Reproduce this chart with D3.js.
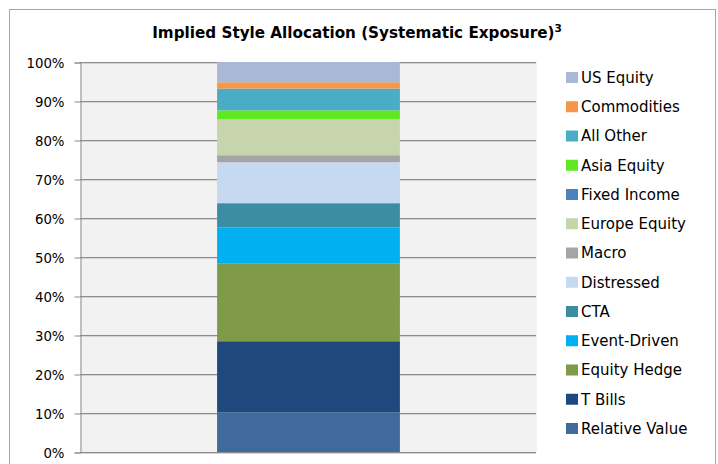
<!DOCTYPE html>
<html><head><meta charset="utf-8">
<script src="https://cdn.jsdelivr.net/npm/d3@7"></script>
<style>body{margin:0;background:#fff}svg{display:block}</style>
</head><body>
<script>
// stack order bottom -> top
const categories = ["Portfolio"];
const seriesNames = ["Relative Value","T Bills","Equity Hedge","Event-Driven","CTA","Distressed","Macro","Europe Equity","Fixed Income","Asia Equity","All Other","Commodities","US Equity"];
const seriesValues = [10.2, 18.2, 20.0, 9.2, 6.2, 10.5, 1.8, 9.2, 0.0, 2.3, 5.6, 1.6, 5.2];
const seriesColors = ["#406a9c","#1f497d","#7f9a48","#00b0f0","#3c8ca4","#c6d9f0","#a5a5a5","#c6d5ab","#4f81bd","#5fe823","#4bacc6","#f79646","#a9b8d6"];
const yTicks = [0,10,20,30,40,50,60,70,80,90,100];
const title = "Implied Style Allocation (Systematic Exposure)";
const titleSup = "3";

const W = 718, H = 464;
const svg = d3.select("body").append("svg").attr("width", W).attr("height", H);
const font = "DejaVu Sans, sans-serif";

// outer frame
svg.append("rect").attr("x", 9.5).attr("y", 9.5).attr("width", 706).attr("height", 470)
  .attr("fill", "#fff").attr("stroke", "#a6a6a6").attr("stroke-width", 1);

const plot = {l: 80, r: 537, t: 62, b: 452};
const x = d3.scaleBand().domain(categories).range([plot.l, plot.r]).paddingInner(0.6).paddingOuter(0.3);
const y = d3.scaleLinear().domain([0, 100]).range([plot.b, plot.t]);

svg.append("rect").attr("x", plot.l).attr("y", plot.t).attr("width", plot.r - plot.l).attr("height", plot.b - plot.t).attr("fill", "#f2f2f2");

// gridlines with shadow
const g = svg.append("g");
g.selectAll("line.sh").data(yTicks).join("line").attr("class","sh")
  .attr("x1", plot.l).attr("x2", plot.r - 1).attr("y1", d => Math.round(y(d)) + 1.5).attr("y2", d => Math.round(y(d)) + 1.5)
  .attr("stroke", "#d4d4d4").attr("stroke-width", 1);
g.selectAll("line.gl").data(yTicks).join("line").attr("class","gl")
  .attr("x1", plot.l).attr("x2", plot.r - 1).attr("y1", d => Math.round(y(d)) + 0.5).attr("y2", d => Math.round(y(d)) + 0.5)
  .attr("stroke", "#8c8c8c").attr("stroke-width", 1);

// stacked bar
const row = {};
seriesNames.forEach((n, i) => row[n] = seriesValues[i]);
const stack = d3.stack().keys(seriesNames)([row]);
svg.append("g").selectAll("rect").data(stack).join("rect")
  .attr("x", x(categories[0])).attr("width", x.bandwidth())
  .attr("y", d => y(d[0][1])).attr("height", d => y(d[0][0]) - y(d[0][1]))
  .attr("fill", (d, i) => seriesColors[i]);

// y axis
const yAxis = d3.axisLeft(y).tickValues(yTicks).tickFormat(d => d + "%").tickSize(6).tickPadding(10);
const ax = svg.append("g").attr("transform", `translate(${plot.l + 0.5},0.5)`).call(yAxis);
ax.select(".domain").attr("stroke", "#8c8c8c");
ax.selectAll(".tick line").attr("stroke", "#8c8c8c");
ax.selectAll(".tick text").attr("font-family", font).attr("font-size", 13.3).attr("fill", "#000").attr("dy", "0.36em");

// title
const t = svg.append("text").attr("x", 357).attr("y", 38).attr("text-anchor", "middle")
  .attr("font-family", font).attr("font-weight", "bold").attr("font-size", 15.2).attr("fill", "#000");
t.append("tspan").text(title);
t.append("tspan").attr("font-size", 10.5).attr("dy", -6).text(titleSup);

// legend (reverse order)
const legendItems = seriesNames.map((n, i) => ({n, c: seriesColors[i]})).reverse();
const lg = svg.append("g").selectAll("g").data(legendItems).join("g")
  .attr("transform", (d, i) => `translate(566,${77.5 + i * 29.25})`);
lg.append("rect").attr("x", 0).attr("y", -5.5).attr("width", 12).attr("height", 11).attr("fill", d => d.c);
lg.append("text").attr("x", 15).attr("y", 0).attr("dy", "0.36em").attr("font-family", font).attr("font-size", 15).attr("fill", "#000").text(d => d.n);
</script>
</body></html>
